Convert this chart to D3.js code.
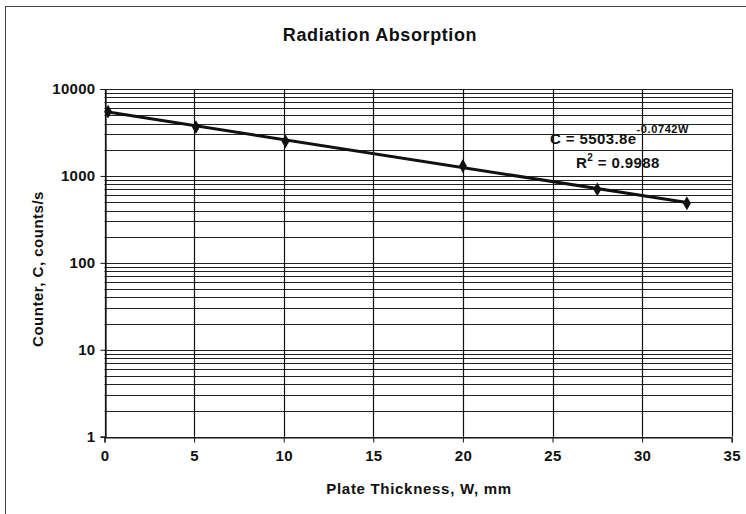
<!DOCTYPE html>
<html><head><meta charset="utf-8">
<script src="https://cdn.jsdelivr.net/npm/d3@7"></script>
<style>body{margin:0;background:#fff}svg{display:block}text{font-family:"Liberation Sans",Arial,sans-serif;font-weight:bold;fill:#111}</style>
</head><body><div id="chart"></div>
<script>
const thickness = [0.2, 5.1, 10.1, 20, 27.5, 32.5];
const counts = [5480, 3650, 2500, 1300, 700, 485];
const xTicks = [0, 5, 10, 15, 20, 25, 30, 35];
const yTicks = [1, 10, 100, 1000, 10000];
const fitA = 5503.8, fitB = -0.0742;
const title = "Radiation Absorption";
const xTitle = "Plate Thickness, W, mm";
const yTitle = "Counter, C, counts/s";

const W = 746, H = 514;
const m = {left: 104.5, right: 746 - 731.7, top: 89, bottom: 514 - 436.7};
const svg = d3.select("#chart").append("svg").attr("width", W).attr("height", H);

// outer border (left/top visible)
svg.append("rect").attr("x", 5.5).attr("y", 6.5).attr("width", 760).attr("height", 520)
  .attr("fill", "none").attr("stroke", "#444").attr("stroke-width", 1);

const x = d3.scaleLinear().domain([0, 35]).range([m.left, W - m.right]);
const y = d3.scaleLog().domain([1, 10000]).range([H - m.bottom, m.top]);

// horizontal grid at every log minor tick
const minor = [];
for (let e = 0; e < 4; e++) for (let k = 1; k <= 9; k++) minor.push(k * Math.pow(10, e));
minor.push(10000);
svg.append("g").selectAll("line").data(minor).join("line")
  .attr("x1", x(0)).attr("x2", x(35))
  .attr("y1", d => Math.round(y(d)) + 0.5).attr("y2", d => Math.round(y(d)) + 0.5)
  .attr("stroke", "#222").attr("stroke-width", 1.2);
// vertical grid
svg.append("g").selectAll("line").data(xTicks).join("line")
  .attr("x1", d => Math.round(x(d)) + 0.5).attr("x2", d => Math.round(x(d)) + 0.5)
  .attr("y1", y(10000)).attr("y2", y(1))
  .attr("stroke", "#111").attr("stroke-width", 1.2);

// axes
const xAxis = svg.append("g").attr("transform", `translate(0,${Math.round(y(1)) + 0.5})`)
  .call(d3.axisBottom(x).tickValues(xTicks).tickSize(5).tickPadding(8).tickFormat(d3.format("d")));
const yAxis = svg.append("g").attr("transform", `translate(${Math.round(x(0)) + 0.5},0)`)
  .call(d3.axisLeft(y).tickValues(yTicks).tickSize(5).tickPadding(5).tickFormat(d3.format("d")));
[xAxis, yAxis].forEach(a => {
  a.select(".domain").attr("stroke", "#111").attr("stroke-width", 1.2);
  a.selectAll(".tick line").attr("stroke", "#111");
  a.selectAll("text").attr("font-size", 15).attr("letter-spacing", 0.3)
    .attr("font-family", '"Liberation Sans",Arial,sans-serif').attr("font-weight", "bold").attr("fill", "#111");
});

// trendline
const lineGen = d3.line().x(d => x(d)).y(d => y(fitA * Math.exp(fitB * d)));
svg.append("path").datum([d3.min(thickness), d3.max(thickness)])
  .attr("d", lineGen).attr("fill", "none").attr("stroke", "#111").attr("stroke-width", 3);

// markers
const pts = thickness.map((t, i) => ({t, c: counts[i]}));
svg.append("g").selectAll("path").data(pts).join("path")
  .attr("d", d3.symbol().type(d3.symbolDiamond).size(55))
  .attr("transform", d => `translate(${x(d.t)},${y(d.c)})`)
  .attr("fill", "#111");

// titles
svg.append("text").attr("x", 380).attr("y", 41).attr("text-anchor", "middle")
  .attr("font-size", 18).attr("letter-spacing", 0.6).text(title);
svg.append("text").attr("x", 419).attr("y", 494).attr("text-anchor", "middle")
  .attr("font-size", 15).attr("letter-spacing", 0.7).text(xTitle);
svg.append("text").attr("transform", "translate(43,269) rotate(-90)").attr("text-anchor", "middle")
  .attr("font-size", 15).attr("letter-spacing", 0.5).text(yTitle);

// equation
const eq = svg.append("text").attr("x", 550).attr("y", 144).attr("font-size", 15).attr("letter-spacing", 0.4);
eq.append("tspan").text("C = " + fitA + "e");
eq.append("tspan").attr("dy", -11).attr("font-size", 11).attr("letter-spacing", 0.6).text(fitB + "W");
const r2 = svg.append("text").attr("x", 576).attr("y", 168).attr("font-size", 15).attr("letter-spacing", 0.4);
r2.append("tspan").text("R");
r2.append("tspan").attr("dy", -7).attr("font-size", 10).text("2");
r2.append("tspan").attr("dy", 7).text(" = 0.9988");
</script></body></html>
